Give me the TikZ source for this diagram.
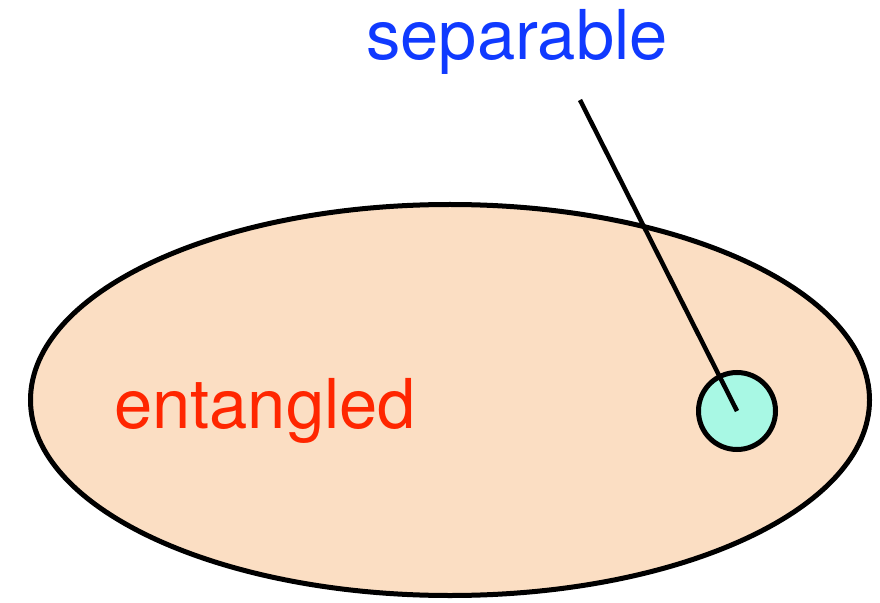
\documentclass[tikz,border=0pt]{standalone}
\usepackage{fontspec}
\setmainfont{TeX Gyre Heros}
\usetikzlibrary{shapes.geometric, positioning}

\definecolor{peach}{RGB}{251,222,195}
\definecolor{mint}{RGB}{168,248,228}
\definecolor{sepblue}{RGB}{16,58,255}
\definecolor{entred}{RGB}{255,38,0}

\begin{document}
\begin{tikzpicture}[
  x=1bp, y=-1bp,
  region/.style={ellipse, draw, line width=5bp, fill=peach, minimum width=839bp, minimum height=391bp, inner sep=0pt},
  subset/.style={circle, draw, line width=5bp, fill=mint, minimum size=77bp, inner sep=0pt},
  label/.style={font=\fontsize{69}{80}\selectfont, anchor=base, inner sep=0pt},
  pointer/.style={line width=4.5bp}
]
  \useasboundingbox (0,0) rectangle (880,603);

  \node[region] (ent) at (450,400) {};
  \node[subset] (sep) at (737,411) {};

  \node[label, text=entred] (entlabel) at (265,428) {entangled};
  \node[label, text=sepblue] (seplabel) at (517,60) {separable};

  \coordinate (tip) at (580,100);
  \draw[pointer] (tip) -- (sep.center);
\end{tikzpicture}
\end{document}
